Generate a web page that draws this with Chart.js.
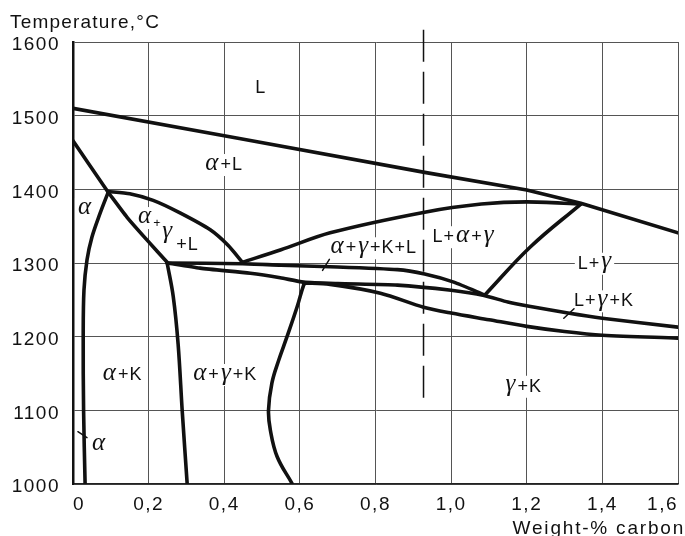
<!DOCTYPE html>
<html>
<head>
<meta charset="utf-8">
<script src="https://cdn.jsdelivr.net/npm/chart.js@4.4.0/dist/chart.umd.min.js"></script>
<style>
html, body { margin: 0; padding: 0; background: #fff; }
</style>
</head>
<body>
<canvas id="phaseChart" width="685" height="536"></canvas>
<script>
// axis ticks
const xTickLabels = ['0', '0,2', '0,4', '0,6', '0,8', '1,0', '1,2', '1,4', '1,6'];
const yTickValues = [1000, 1100, 1200, 1300, 1400, 1500, 1600];

// phase boundaries, carbon wt-% (C) vs temperature (T)
const liquidusC = [0, 0.44, 0.93, 1.2, 1.343, 1.6];
const liquidusT = [1510, 1469, 1423, 1399, 1381, 1341];

const deltaSolidusC = [0, 0.045, 0.093];
const deltaSolidusT = [1466, 1432, 1396];

const alphaLTopC = [0.093, 0.15, 0.212, 0.283, 0.363, 0.41, 0.448];
const alphaLTopT = [1397, 1394, 1385, 1368, 1345, 1324, 1301];

const alphaGammaLC = [0.093, 0.143, 0.196, 0.249];
const alphaGammaLT = [1396, 1362, 1331, 1301];

const alphaSolvusC = [0.093, 0.072, 0.05, 0.037, 0.029, 0.027, 0.028, 0.032];
const alphaSolvusT = [1396, 1368, 1335, 1304, 1263, 1200, 1100, 1000];

const lagTopC = [0.448, 0.55, 0.68, 0.93, 1.08, 1.2, 1.343];
const lagTopT = [1301, 1318, 1341, 1369, 1380, 1383, 1380];

const lgSideC = [1.343, 1.21, 1.09];
const lgSideT = [1380, 1322, 1257];

const quadTopC = [0.249, 0.448, 0.55, 0.68, 0.858, 0.93, 1.007, 1.087];
const quadTopT = [1300, 1299, 1297, 1295, 1291, 1285, 1274, 1257];

const solidusC = [0.249, 0.336, 0.469, 0.548, 0.61, 0.7, 0.858, 1.0, 1.087, 1.15, 1.21, 1.309, 1.4, 1.6];
const solidusT = [1300, 1293, 1286, 1280, 1274, 1272, 1270, 1263, 1256, 1247, 1241, 1232, 1225, 1213];

const lowerC = [0.61, 0.68, 0.813, 0.927, 1.0, 1.1, 1.2, 1.3, 1.4, 1.6];
const lowerT = [1273, 1271, 1259, 1240, 1232, 1223, 1214, 1207, 1202, 1198];

const alphaKC = [0.249, 0.265, 0.278, 0.289, 0.302];
const alphaKT = [1300, 1255, 1190, 1098, 1000];

const gammaKC = [0.615, 0.610, 0.593, 0.566, 0.544, 0.526, 0.517, 0.522, 0.540, 0.579];
const gammaKT = [1273, 1270, 1241, 1200, 1168, 1137, 1100, 1073, 1037, 1001];

const dashedC = [0.927, 0.927];
const dashedT = [1117, 1624];

// little pointer strokes next to labels
const pointerAlphaC = [0.013, 0.037];
const pointerAlphaT = [1071, 1063];
const pointerQuadC = [0.66, 0.678];
const pointerQuadT = [1290, 1305];
const pointerLgkC = [1.298, 1.325];
const pointerLgkT = [1225, 1238];

const SANS = '"Liberation Sans", Arial, sans-serif';
const fonts = {
    s: '18px ' + SANS,
    p: '13px ' + SANS,
    g: 'italic 25px "Liberation Serif", "Times New Roman", serif'
};

// region labels: left x, centre y in data units
const regionLabels = [
    { x: 0.482, y: 1538, parts: [['L', 's']] },
    { x: 0.350, y: 1433, parts: [['α', 'g'], ['+L', 's']] },
    { x: 0.013, y: 1373, parts: [['α', 'g']] },
    { x: 0.172, y: 1361, parts: [['α', 'g']] },
    { x: 0.212, y: 1354, parts: [['+', 'p']] },
    { x: 0.236, y: 1340, parts: [['γ', 'g']] },
    { x: 0.273, y: 1324, parts: [['+L', 's']] },
    { x: 0.681, y: 1320, parts: [['α', 'g'], ['+', 's'], ['γ', 'g'], ['+K+L', 's']] },
    { x: 0.951, y: 1335, parts: [['L+', 's'], ['α', 'g'], ['+', 's'], ['γ', 'g']] },
    { x: 1.335, y: 1299, parts: [['L+', 's'], ['γ', 'g']] },
    { x: 1.325, y: 1248, parts: [['L+', 's'], ['γ', 'g'], ['+K', 's']] },
    { x: 0.079, y: 1148, parts: [['α', 'g'], ['+K', 's']] },
    { x: 0.318, y: 1148, parts: [['α', 'g'], ['+', 's'], ['γ', 'g'], ['+K', 's']] },
    { x: 1.144, y: 1132, parts: [['γ', 'g'], ['+K', 's']] },
    { x: 0.05, y: 1053, parts: [['α', 'g']] }
];

function curve(c, t, extra) {
    let pts = [];
    for (let i = 0; i < c.length; i++) {
        pts.push({ x: c[i], y: t[i] });
    }
    return Object.assign({
        data: pts,
        showLine: true,
        borderColor: '#111',
        borderWidth: 3.6,
        pointRadius: 0,
        tension: 0.2,
        fill: false,
        borderCapStyle: 'round',
        borderJoinStyle: 'round'
    }, extra || {});
}

const labelPlugin = {
    id: 'labelPlugin',
    beforeDraw(chart) {
        chart.ctx.letterSpacing = '1.5px';
    },
    beforeDatasetsDraw(chart) {
        const ctx = chart.ctx;
        const xs = chart.scales.x, ys = chart.scales.y;
        ctx.save();
        ctx.letterSpacing = '1px';
        ctx.textBaseline = 'middle';
        regionLabels.forEach(function (lab) {
            let w = 0;
            lab.parts.forEach(function (p) {
                ctx.font = fonts[p[1]];
                w += ctx.measureText(p[0]).width + 1;
            });
            let x = xs.getPixelForValue(lab.x);
            let y = ys.getPixelForValue(lab.y);
            ctx.fillStyle = '#fff';
            ctx.fillRect(x - 3, y - 11, w + 4, 22);
            ctx.fillStyle = '#111';
            lab.parts.forEach(function (p) {
                ctx.font = fonts[p[1]];
                ctx.fillText(p[0], x, p[1] === 'g' ? y - 2 : y);
                x += ctx.measureText(p[0]).width + 1;
            });
        });
        ctx.restore();
    },
    afterDraw(chart) {
        const ctx = chart.ctx;
        ctx.save();
        ctx.fillStyle = '#111';
        ctx.font = '19px ' + SANS;
        ctx.letterSpacing = '1.2px';
        ctx.textAlign = 'left';
        ctx.textBaseline = 'alphabetic';
        ctx.fillText('Temperature,\u00B0C', 10, 28);
        ctx.letterSpacing = '1.8px';
        ctx.textAlign = 'right';
        ctx.fillText('Weight-% carbon', 685, 534);
        ctx.restore();
    }
};

const ctx = document.getElementById('phaseChart').getContext('2d');
const phaseChart = new Chart(ctx, {
    type: 'scatter',
    data: {
        datasets: [
            curve(liquidusC, liquidusT, { tension: 0 }),
            curve(deltaSolidusC, deltaSolidusT),
            curve(alphaLTopC, alphaLTopT),
            curve(alphaGammaLC, alphaGammaLT),
            curve(alphaSolvusC, alphaSolvusT, { tension: 0.35 }),
            curve(lagTopC, lagTopT, { tension: 0.3 }),
            curve(lgSideC, lgSideT, { tension: 0.4 }),
            curve(quadTopC, quadTopT),
            curve(solidusC, solidusT),
            curve(lowerC, lowerT, { tension: 0.3 }),
            curve(alphaKC, alphaKT, { tension: 0.35 }),
            curve(gammaKC, gammaKT, { tension: 0.4 }),
            curve(dashedC, dashedT, { borderWidth: 1.5, borderDash: [32, 10], tension: 0, clip: false, borderCapStyle: 'butt' }),
            curve(pointerAlphaC, pointerAlphaT, { borderWidth: 1.5, tension: 0 }),
            curve(pointerQuadC, pointerQuadT, { borderWidth: 1.5, tension: 0 }),
            curve(pointerLgkC, pointerLgkT, { borderWidth: 1.5, tension: 0 })
        ]
    },
    options: {
        responsive: false,
        animation: false,
        layout: { padding: { left: 10, right: 7, top: 42, bottom: 0 } },
        plugins: {
            legend: { display: false },
            tooltip: { enabled: false }
        },
        scales: {
            x: {
                type: 'linear',
                min: 0,
                max: 1.6,
                ticks: {
                    stepSize: 0.2,
                    autoSkip: false,
                    maxRotation: 0,
                    align: 'inner',
                    padding: 9,
                    color: '#111',
                    font: { family: SANS, size: 19 },
                    callback: function (v, i) { return xTickLabels[i]; }
                },
                grid: { color: '#555', lineWidth: 1, drawTicks: false },
                border: { color: '#222', width: 1.5 },
                afterFit: function (s) { s.height = 52; s.paddingLeft = 0; s.paddingRight = 0; }
            },
            y: {
                min: yTickValues[0],
                max: yTickValues[yTickValues.length - 1],
                afterBuildTicks: function (s) { s.ticks = yTickValues.map(v => ({ value: v })); },
                ticks: {
                    padding: 13,
                    labelOffset: 3,
                    color: '#111',
                    font: { family: SANS, size: 19 },
                    callback: function (v) { return String(v); }
                },
                grid: { color: '#555', lineWidth: 1, drawTicks: false },
                border: { color: '#111', width: 2.5 },
                afterFit: function (s) { s.width = 63; }
            }
        }
    },
    plugins: [labelPlugin]
});
</script>
</body>
</html>
